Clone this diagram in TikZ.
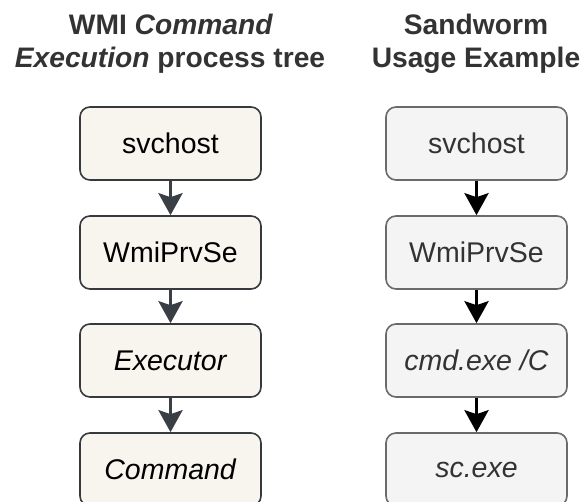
\documentclass[tikz,border=0pt]{standalone}
\usepackage{fontspec}
\setmainfont{Liberation Sans}
\usetikzlibrary{arrows.meta}
\definecolor{titlec}{HTML}{333333}
\definecolor{lfill}{HTML}{F7F5EE}
\definecolor{ldraw}{HTML}{36393D}
\definecolor{rfill}{HTML}{F4F4F4}
\definecolor{rdraw}{HTML}{6A6A6A}
\definecolor{rtext}{HTML}{333333}
\definecolor{larrow}{HTML}{3A3F45}
\tikzset{
  x=1pt, y=-1pt,
  ttl/.style={font=\fontsize{28.2}{34}\selectfont\bfseries, text=titlec, inner sep=0pt, anchor=base},
  lbox/.style={draw=ldraw, fill=lfill, line width=1.6pt, rounded corners=10pt, minimum width=181pt, minimum height=73pt, font=\fontsize{28.5}{33}\selectfont, text=black, inner sep=0pt},
  rbox/.style={draw=rdraw, fill=rfill, line width=1.6pt, rounded corners=10pt, minimum width=181pt, minimum height=73pt, font=\fontsize{28.5}{33}\selectfont, text=rtext, inner sep=0pt},
  larr/.style={draw=larrow, line width=3.5pt, -{Stealth[length=22pt, width=24pt, inset=4pt]}},
  rarr/.style={draw=black, line width=3.5pt, -{Stealth[length=22pt, width=24pt, inset=4pt]}},
}
\begin{document}
\begin{tikzpicture}
\useasboundingbox (0,0) rectangle (584,502);
\begin{scope}
\clip (0,0) rectangle (584,502);
\node[ttl] (t1) at (171,35) {WMI \textit{Command}};
\node[ttl] (t2) at (170,68) {\textit{Execution} process tree};
\node[ttl] (t3) at (476,35) {Sandworm};
\node[ttl] (t4) at (476,68) {Usage Example};

\node[lbox] (l1) at (170.5,143.5) {svchost};
\node[lbox] (l2) at (170.5,252.5) {WmiPrvSe};
\node[lbox] (l3) at (170.5,360.5) {\textit{Executor}};
\node[lbox] (l4) at (170.5,469.5) {\textit{Command}};

\node[rbox] (r1) at (476.5,143.5) {svchost};
\node[rbox] (r2) at (476.5,252.5) {WmiPrvSe};
\node[rbox] (r3) at (476.5,360.5) {\textit{cmd.exe /C}};
\node[rbox] (r4) at (476.5,469.5) {\textit{sc.exe}};

\draw[larr] (l1) -- (l2);
\draw[larr] (l2) -- (l3);
\draw[larr] (l3) -- (l4);
\draw[rarr] (r1) -- (r2);
\draw[rarr] (r2) -- (r3);
\draw[rarr] (r3) -- (r4);
\end{scope}
\end{tikzpicture}
\end{document}
